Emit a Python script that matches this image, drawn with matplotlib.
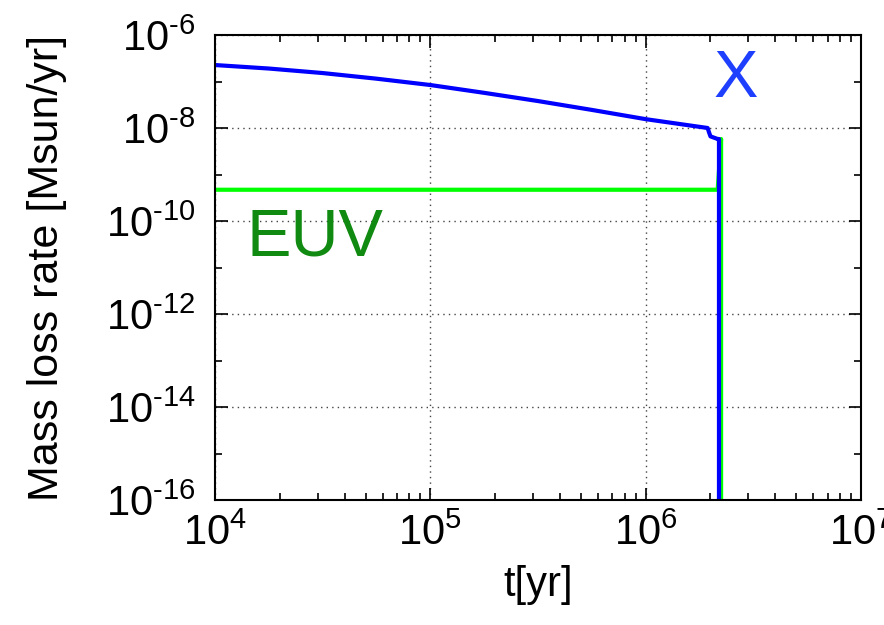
import math
import matplotlib.pyplot as plt
from matplotlib.ticker import LogLocator, FuncFormatter, NullFormatter

plt.rcParams['font.family'] = ['Liberation Sans', 'DejaVu Sans']
plt.rcParams['mathtext.fontset'] = 'custom'
plt.rcParams['mathtext.rm'] = 'Liberation Sans'
plt.rcParams['mathtext.default'] = 'regular'

# X-ray driven mass loss
t_x = [1e4, 1.78e4, 3.16e4, 5.62e4, 1e5, 1.78e5, 3.16e5, 5.62e5, 1e6,
       1.94e6, 1.97e6, 2.0e6, 2.16e6, 2.19e6, 2.19e6]
mdot_x = [2.26e-7, 1.9e-7, 1.52e-7, 1.15e-7, 8.4e-8, 5.7e-8, 3.8e-8, 2.45e-8, 1.55e-8,
          1.0e-8, 8.0e-9, 6.6e-9, 5.8e-9, 5.8e-9, 1e-20]

# EUV driven mass loss
t_euv = [1e4, 2.16e6, 2.24e6, 2.24e6]
mdot_euv = [4.7e-10, 4.7e-10, 5.8e-9, 1e-20]

W, H = 884, 625
fig = plt.figure(figsize=(W / 100, H / 100), dpi=100)
ax = fig.add_axes([215 / W, 1 - 500 / H, (861 - 215) / W, (500 - 35) / H])

ax.plot(t_euv, mdot_euv, color='#00ff00', lw=3)
ax.plot(t_x, mdot_x, color='#0000ff', lw=3)

ax.set_xscale('log')
ax.set_yscale('log')
ax.set_xlim(1e4, 1e7)
ax.set_ylim(1e-16, 1e-6)

ax.xaxis.set_major_locator(LogLocator(base=10, numticks=10))
ax.xaxis.set_minor_locator(LogLocator(base=10, subs=range(2, 10), numticks=20))
ax.xaxis.set_minor_formatter(NullFormatter())
ax.yaxis.set_major_locator(LogLocator(base=100, numticks=10))
ax.yaxis.set_minor_locator(LogLocator(base=10, subs=[1.0], numticks=20))
ax.yaxis.set_minor_formatter(NullFormatter())


def pow_label(v, pos):
    e = round(math.log10(v))
    sign = '\u2010' if e < 0 else ''
    return '$10^{%s%d}$' % (sign, abs(e))


ax.xaxis.set_major_formatter(FuncFormatter(pow_label))
ax.yaxis.set_major_formatter(FuncFormatter(pow_label))

ax.tick_params(which='both', direction='in', top=True, right=True, width=1.2)
ax.tick_params(which='major', length=9, labelsize=30)
ax.tick_params(which='minor', length=5)
ax.tick_params(axis='x', pad=10)
ax.tick_params(axis='y', pad=14)
for s in ax.spines.values():
    s.set_linewidth(1.5)

ax.grid(True, which='major', linestyle=(0, (1, 3)), color='#444444', lw=1)

ax.set_xlabel('t[yr]', fontsize=30, labelpad=8)
ax.set_ylabel('Mass loss rate [Msun/yr]', fontsize=31, labelpad=28)

fig.text(736 / W, 1 - 80 / H, 'X', color='#1f3fff', fontsize=48,
         ha='center', va='center')
fig.text(315 / W, 1 - 238 / H, 'EUV', color='#108a10', fontsize=48,
         ha='center', va='center')

plt.savefig('out.png', dpi=100)
